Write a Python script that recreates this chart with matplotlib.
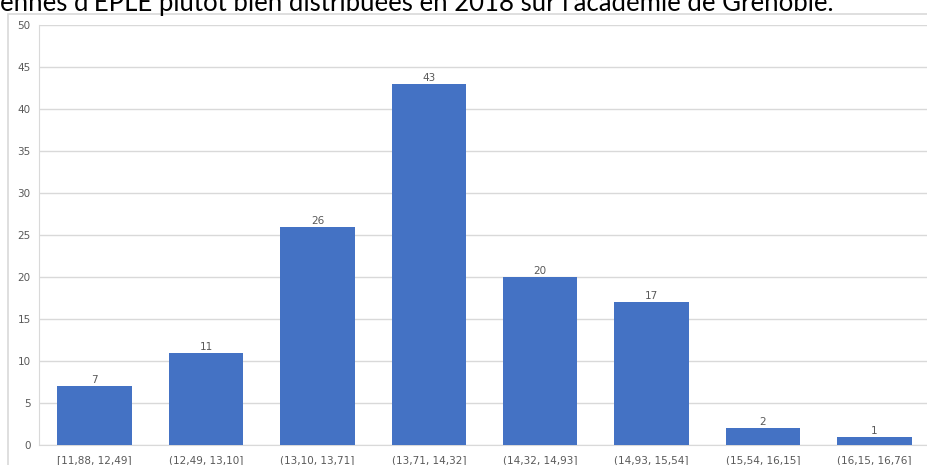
import matplotlib.pyplot as plt
from matplotlib.patches import Rectangle
import numpy as np

title = "ennes d'EPLE plutôt bien distribuées en 2018 sur l'académie de Grenoble."
categories = ['[11,88, 12,49]', '(12,49, 13,10]', '(13,10, 13,71]', '(13,71, 14,32]',
              '(14,32, 14,93]', '(14,93, 15,54]', '(15,54, 16,15]', '(16,15, 16,76]']
counts = [7, 11, 26, 43, 20, 17, 2, 1]
yticks = np.arange(0, 51, 5)

W, H = 927, 465
fig = plt.figure(figsize=(W / 100, H / 100), dpi=100)

# chart frame (cut off on right and bottom)
fig.patches.append(Rectangle((8 / W, -0.1), 1.2, 1 - 14 / H + 0.1, transform=fig.transFigure,
                             fill=False, edgecolor='#d9d9d9', linewidth=1.2))

fig.text(0, 1 - 11 / H, title, fontsize=18.5, family='Lato', color='black', va='baseline', ha='left')

ax = fig.add_axes([39 / W, 1 - 445 / H, 891 / W, 420 / H])
x = np.arange(len(categories))
bars = ax.bar(x, counts, width=0.67, color='#4472C4', zorder=3)
for b, v in zip(bars, counts):
    ax.text(b.get_x() + b.get_width() / 2, v + 0.1, str(v), ha='center', va='bottom',
            fontsize=7.5, color='#595959')

ax.set_xlim(-0.5, len(categories) - 0.5)
ax.set_ylim(0, 50)
ax.set_yticks(yticks)
ax.set_yticklabels([str(t) for t in yticks], fontsize=7.5, color='#595959')
ax.set_xticks(x)
ax.set_xticklabels(categories, fontsize=7.5, color='#595959')
ax.tick_params(length=0, pad=6)
ax.tick_params(axis='x', pad=7)
ax.grid(axis='y', color='#d9d9d9', linewidth=1, zorder=0)
for s in ['top', 'right']:
    ax.spines[s].set_visible(False)
ax.spines['left'].set_color('#d9d9d9')
ax.spines['bottom'].set_color('#d9d9d9')

fig.savefig('out.png', dpi=100)
